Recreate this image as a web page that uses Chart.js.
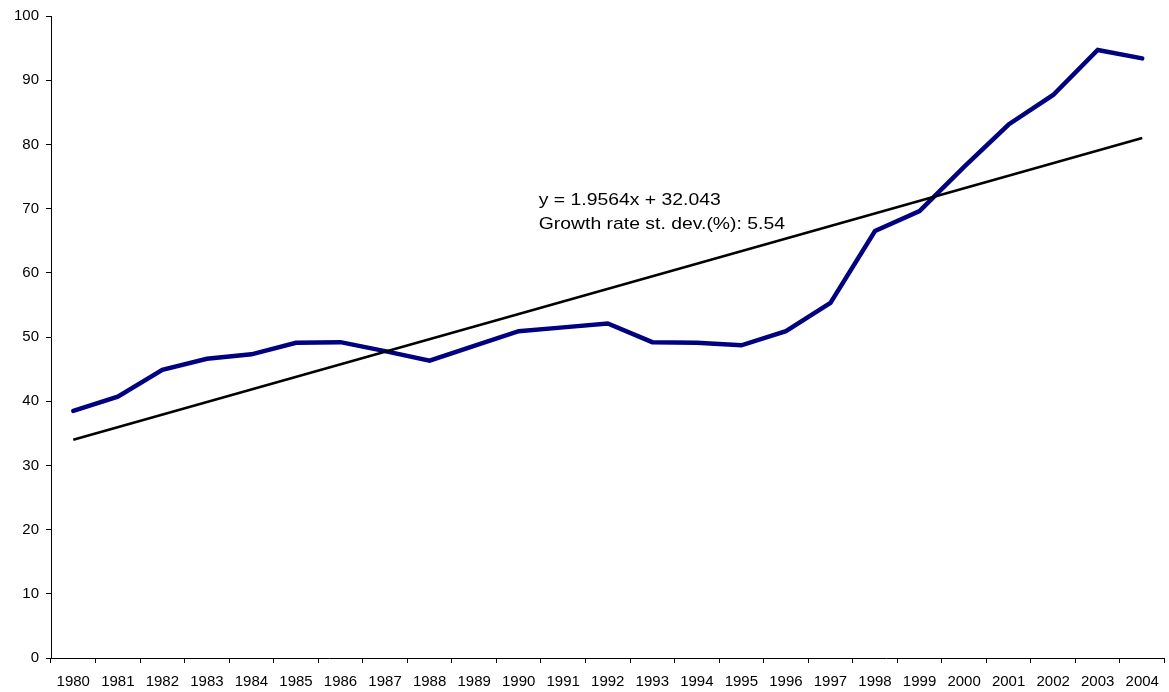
<!DOCTYPE html>
<html>
<head>
<meta charset="utf-8">
<script src="https://cdn.jsdelivr.net/npm/chart.js@4/dist/chart.umd.min.js"></script>
<style>
  html, body { margin: 0; padding: 0; background: #fff; }
  canvas { display: block; }
</style>
</head>
<body>
<canvas id="chart" width="1169" height="692"></canvas>
<script>
// years on the x axis
const years = ["1980", "1981", "1982", "1983", "1984", "1985", "1986", "1987", "1988", "1989",
  "1990", "1991", "1992", "1993", "1994", "1995", "1996", "1997", "1998", "1999",
  "2000", "2001", "2002", "2003", "2004"];

// series values
const values = [38.5, 40.7, 44.9, 46.6, 47.3, 49.1, 49.2, 47.8, 46.3, 48.6,
  50.9, 51.5, 52.1, 49.2, 49.1, 48.7, 50.9, 55.3, 66.5, 69.6,
  76.5, 83.1, 87.7, 94.7, 93.4];

// trend line end points (first and last year)
const trendEnds = [34.0, 81.0];

const yTicks = [0, 10, 20, 30, 40, 50, 60, 70, 80, 90, 100];

const noteLines = ["y = 1.9564x + 32.043", "Growth rate st. dev.(%): 5.54"];

const trend = years.map((_, i) => i === 0 ? trendEnds[0] : (i === years.length - 1 ? trendEnds[1] : null));

const FONT = "'Liberation Sans', Arial, sans-serif";

// draws the equation text box
const notePlugin = {
  id: "note",
  afterDatasetsDraw(chart) {
    const ctx = chart.ctx;
    const xs = chart.scales.x, ys = chart.scales.y;
    const x = xs.getPixelForValue(10.45);
    const y = ys.getPixelForValue(70.6);
    ctx.save();
    ctx.fillStyle = "#000";
    ctx.font = "17px " + FONT;
    ctx.textAlign = "left";
    ctx.textBaseline = "alphabetic";
    ctx.translate(x, y);
    ctx.scale(1.14, 1);
    noteLines.forEach((t, i) => ctx.fillText(t, 0, i * 24));
    ctx.restore();
  }
};

new Chart(document.getElementById("chart").getContext("2d"), {
  type: "line",
  data: {
    labels: years,
    datasets: [
      {
        data: trend,
        borderColor: "#000",
        borderWidth: 2.5,
        pointRadius: 0,
        spanGaps: true,
        tension: 0
      },
      {
        data: values,
        borderColor: "#000080",
        borderWidth: 4.5,
        borderCapStyle: "round",
        pointRadius: 0,
        tension: 0
      }
    ]
  },
  options: {
    responsive: false,
    animation: false,
    layout: { padding: { top: 16, right: 4, left: 0, bottom: 0 } },
    plugins: { legend: { display: false }, tooltip: { enabled: false } },
    scales: {
      x: {
        offset: true,
        grid: { offset: true, drawOnChartArea: false, drawTicks: true, tickLength: 5, color: "#000" },
        border: { display: true, color: "#000", width: 1 },
        ticks: { color: "#000", font: { family: FONT, size: 15 }, padding: 10, maxRotation: 0, autoSkip: false },
        afterFit(scale) { scale.height = 34; }
      },
      y: {
        min: 0,
        max: 100,
        afterBuildTicks(scale) { scale.ticks = yTicks.map(v => ({ value: v })); },
        grid: { drawOnChartArea: false, drawTicks: true, tickLength: 5, color: "#000" },
        border: { display: true, color: "#000", width: 1 },
        ticks: { color: "#000", font: { family: FONT, size: 15 }, padding: 7 },
        afterFit(scale) { scale.width = 51; }
      }
    }
  },
  plugins: [notePlugin]
});
</script>
</body>
</html>
